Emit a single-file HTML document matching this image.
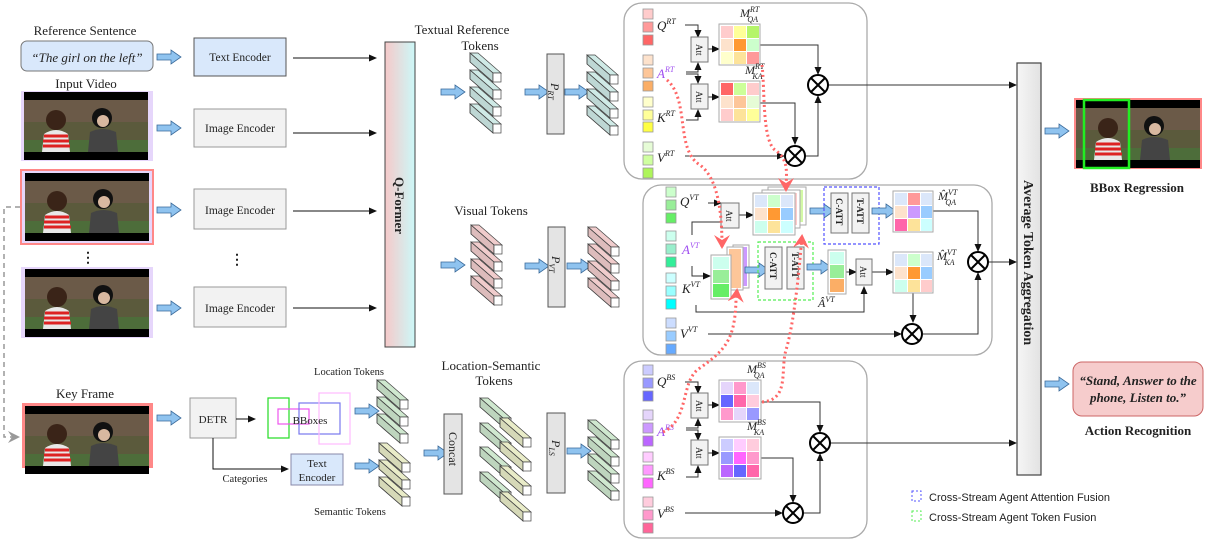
<!DOCTYPE html>
<html><head><meta charset="utf-8"><style>
html,body{margin:0;padding:0;background:#fff;width:1218px;height:553px;overflow:hidden}
svg{display:block}
text{font-family:"Liberation Serif",serif;fill:#222}
.s{font-family:"Liberation Sans",sans-serif}
</style></head><body>
<svg width="1218" height="553" viewBox="0 0 1218 553" xmlns="http://www.w3.org/2000/svg">
<defs>
<marker id="ah" markerWidth="8" markerHeight="8" refX="7" refY="4" orient="auto" markerUnits="userSpaceOnUse"><path d="M0,0.5 L8,4 L0,7.5 z" fill="#111"/></marker>
<marker id="ahg" markerWidth="12" markerHeight="12" refX="10" refY="6" orient="auto" markerUnits="userSpaceOnUse"><path d="M0,0 L12,6 L0,12 L4,6 z" fill="#999"/></marker>
<marker id="ahr" markerWidth="16" markerHeight="16" refX="12" refY="8" orient="auto" markerUnits="userSpaceOnUse"><path d="M0,0 L14,8 L0,16 L5,8 z" fill="#f66"/></marker>
<linearGradient id="qf" x1="0" x2="1"><stop offset="0" stop-color="#f6c9c9"/><stop offset="1" stop-color="#ccf8f8"/></linearGradient>
<linearGradient id="ag" x1="0" x2="1"><stop offset="0" stop-color="#f6f6f6"/><stop offset="1" stop-color="#e2e2e2"/></linearGradient>
<g id="barr"><path d="M0,4 L14,4 L14,0 L24,7 L14,14 L14,10 L0,10 z" fill="#8fc3ef" stroke="#3a6a9a" stroke-width="0.8"/></g>
<g id="tok" stroke="#444" stroke-width="0.7">
<path d="M0,0 L8,0 L31,20 L23,20 z" fill="currentColor"/>
<path d="M0,0 L23,20 L23,29 L0,9 z" fill="currentColor"/>
<path d="M0,0 L23,20 L23,29 L0,9 z" fill="#000" fill-opacity="0.08"/>
<rect x="23" y="20" width="8" height="9" fill="#fff" fill-opacity="0.85"/>
</g>
<g id="stack4"><use href="#tok" y="0"/><use href="#tok" y="17"/><use href="#tok" y="34"/><use href="#tok" y="51"/></g>
<g id="stack3"><use href="#tok" y="0"/><use href="#tok" y="17"/><use href="#tok" y="34"/></g>
<g id="img">
<rect x="0" y="0" width="124" height="68" fill="#000"/>
<rect x="0" y="8" width="124" height="52" fill="#5b5a3c"/>
<rect x="0" y="8" width="124" height="22" fill="#6b5a48"/>
<rect x="0" y="48" width="124" height="12" fill="#4d6d3a"/>
<circle cx="32" cy="28" r="10" fill="#3a2418"/>
<path d="M18,60 L20,42 Q32,34 44,42 L46,60z" fill="#e8e8e8"/>
<path d="M20,44 L44,44 M19,49 L45,49 M19,54 L46,54" stroke="#d22" stroke-width="3"/>
<circle cx="78" cy="26" r="10" fill="#111"/>
<circle cx="79" cy="29" r="6" fill="#d8b8a0"/>
<path d="M64,60 L66,40 Q78,34 92,40 L94,60z" fill="#444"/>
</g>
<g id="otimes"><circle r="10" fill="#fff" stroke="#000" stroke-width="2"/><path d="M-7,-7 L7,7 M-7,7 L7,-7" stroke="#000" stroke-width="2"/></g>
<g id="att"><rect x="0" y="0" width="17" height="25" fill="#f2f2f2" stroke="#777"/><text x="0" y="0" font-size="9" transform="translate(5,7) rotate(90)">Att</text></g>
</defs>

<!-- Left inputs -->
<text x="85" y="35" font-size="13" text-anchor="middle">Reference Sentence</text>
<rect x="21" y="41" width="132" height="30" rx="6" fill="#d9e8fb" stroke="#777"/>
<text x="87" y="62" font-size="13" text-anchor="middle" font-style="italic">“The girl on the left”</text>
<use href="#barr" x="157" y="50"/>
<rect x="194" y="38" width="92" height="38" fill="#d9e8fb" stroke="#555"/>
<text x="240" y="61" font-size="11.5" text-anchor="middle">Text Encoder</text>
<line x1="293" y1="58" x2="376" y2="58" stroke="#111" marker-end="url(#ah)"/>

<text x="86" y="88" font-size="13" text-anchor="middle">Input Video</text>
<rect x="21" y="91" width="132" height="70" fill="#e6d6fb"/><use href="#img" x="24" y="92" transform="translate(0,0)"/>
<rect x="20" y="169" width="134" height="76" fill="#f88"/><rect x="22" y="171" width="130" height="72" fill="#e6d6fb"/><use href="#img" x="25" y="173"/>
<text x="88" y="262" font-size="14" text-anchor="middle" font-weight="bold">⋮</text>
<text x="237" y="264" font-size="14" text-anchor="middle" font-weight="bold">⋮</text>
<rect x="21" y="267" width="132" height="71" fill="#e6d6fb"/><use href="#img" x="25" y="269"/>
<use href="#barr" x="157" y="121"/><use href="#barr" x="157" y="203"/><use href="#barr" x="157" y="301"/>
<rect x="194" y="109" width="92" height="38" fill="#f2f2f2" stroke="#999"/><text x="240" y="132" font-size="11.5" text-anchor="middle" fill="#444">Image Encoder</text>
<rect x="194" y="189" width="92" height="40" fill="#f2f2f2" stroke="#999"/><text x="240" y="214" font-size="11.5" text-anchor="middle" fill="#444">Image Encoder</text>
<rect x="194" y="287" width="92" height="40" fill="#f2f2f2" stroke="#999"/><text x="240" y="312" font-size="11.5" text-anchor="middle" fill="#444">Image Encoder</text>
<line x1="293" y1="133" x2="376" y2="133" stroke="#111" marker-end="url(#ah)"/>
<line x1="293" y1="211" x2="376" y2="211" stroke="#111" marker-end="url(#ah)"/>
<line x1="293" y1="308" x2="376" y2="308" stroke="#111" marker-end="url(#ah)"/>
<rect x="385" y="42" width="30" height="305" fill="url(#qf)" stroke="#444"/>
<text font-size="13" font-weight="bold" transform="translate(395,177) rotate(90)">Q-Former</text>

<path d="M20,207 L4,207 L4,437 L18,437" fill="none" stroke="#999" stroke-width="1.5" stroke-dasharray="5,4" marker-end="url(#ahg)"/>

<!-- Key frame branch -->
<text x="85" y="398" font-size="13" text-anchor="middle">Key Frame</text>
<rect x="22" y="403" width="131" height="65" fill="#f88"/><use href="#img" x="25" y="406" transform="translate(0,0)"/>
<use href="#barr" x="157" y="411"/>
<rect x="190" y="398" width="46" height="40" fill="#f2f2f2" stroke="#999"/><text x="213" y="423" font-size="11" text-anchor="middle" fill="#444">DETR</text>
<line x1="236" y1="419" x2="255" y2="419" stroke="#111" marker-end="url(#ah)"/>
<rect x="268" y="398" width="21" height="40" fill="none" stroke="#2d2" stroke-width="1.2"/>
<rect x="278" y="409" width="31" height="15" fill="none" stroke="#e5e" stroke-width="1.2"/>
<rect x="299" y="403" width="41" height="31" fill="none" stroke="#77e" stroke-width="1.2"/>
<rect x="319" y="393" width="31" height="51" fill="none" stroke="#fbf" stroke-width="1.2"/>
<text x="310" y="424" font-size="11" text-anchor="middle">BBoxes</text>
<path d="M213,438 L213,469 L288,469" fill="none" stroke="#111" marker-end="url(#ah)"/>
<text x="245" y="482" font-size="10.5" text-anchor="middle">Categories</text>
<rect x="291" y="454" width="52" height="31" fill="#d9e8fb" stroke="#88a"/>
<text x="317" y="467" font-size="11" text-anchor="middle">Text</text><text x="317" y="481" font-size="11" text-anchor="middle">Encoder</text>
<text x="349" y="375" font-size="10.5" text-anchor="middle">Location Tokens</text>
<text x="350" y="515" font-size="10.5" text-anchor="middle">Semantic Tokens</text>
<use href="#barr" x="355" y="404"/><use href="#barr" x="355" y="459"/>
<use href="#stack3" x="377" y="380" color="#cfe8cf"/>
<use href="#stack3" x="379" y="443" color="#e9ecc8"/>
<use href="#barr" x="424" y="446"/>
<rect x="444" y="414" width="18" height="80" fill="#e4e4e4" stroke="#555"/>
<text font-size="12" transform="translate(449,432) rotate(90)">Concat</text>
<text x="491" y="370" font-size="13" text-anchor="middle">Location-Semantic</text>
<text x="494" y="385" font-size="13" text-anchor="middle">Tokens</text>
<g color="#cfe8cf"><use href="#tok" x="480" y="398"/><use href="#tok" x="480" y="423"/><use href="#tok" x="480" y="447"/><use href="#tok" x="480" y="472"/></g>
<g color="#e9ecc8"><use href="#tok" x="500" y="418"/><use href="#tok" x="500" y="442"/><use href="#tok" x="500" y="466"/><use href="#tok" x="500" y="492"/></g>
<rect x="547" y="413" width="18" height="80" fill="#e4e4e4" stroke="#555"/>
<text font-size="12" font-style="italic" transform="translate(552,440) rotate(90)">P<tspan font-size="8" dy="3">LS</tspan></text>
<use href="#barr" x="567" y="444"/>
<use href="#stack4" x="588" y="420" color="#cfe8cf"/>

<!-- Textual / Visual tokens -->
<text x="462" y="34" font-size="13" text-anchor="middle">Textual Reference</text>
<text x="480" y="50" font-size="13" text-anchor="middle">Tokens</text>
<use href="#barr" x="441" y="85"/>
<use href="#stack4" x="470" y="53" color="#cfeae6"/>
<use href="#barr" x="525" y="85"/>
<rect x="547" y="54" width="17" height="80" fill="#e4e4e4" stroke="#555"/>
<text font-size="12" font-style="italic" transform="translate(551,83) rotate(90)">P<tspan font-size="8" dy="3">RT</tspan></text>
<use href="#barr" x="565" y="85"/>
<use href="#stack4" x="587" y="55" color="#cfeae6"/>

<text x="491" y="215" font-size="13" text-anchor="middle">Visual Tokens</text>
<use href="#barr" x="441" y="258"/>
<use href="#stack4" x="471" y="225" color="#f0cccc"/>
<use href="#barr" x="525" y="259"/>
<rect x="548" y="227" width="17" height="80" fill="#e4e4e4" stroke="#555"/>
<text font-size="12" font-style="italic" transform="translate(552,256) rotate(90)">P<tspan font-size="8" dy="3">VT</tspan></text>
<use href="#barr" x="567" y="259"/>
<use href="#stack4" x="588" y="227" color="#f0cccc"/>

<!-- Panel RT -->
<rect x="624" y="3" width="243" height="176" rx="18" fill="#fff" stroke="#aaa" stroke-width="1.3"/>
<g stroke="#999" stroke-width="0.8">
<rect x="643" y="9" width="10" height="10" fill="#fcc"/><rect x="643" y="22" width="10" height="10" fill="#f99"/><rect x="643" y="35" width="10" height="10" fill="#f66"/>
<rect x="643" y="55" width="10" height="10" fill="#fde2cc"/><rect x="643" y="68" width="10" height="10" fill="#fdc699"/><rect x="643" y="81" width="10" height="10" fill="#fbae66"/>
<rect x="643" y="97" width="10" height="10" fill="#ffc"/><rect x="643" y="110" width="10" height="10" fill="#ff9"/><rect x="643" y="122" width="10" height="10" fill="#ff4"/>
<rect x="643" y="142" width="10" height="10" fill="#e6fcd6"/><rect x="643" y="155" width="10" height="10" fill="#cfffa0"/><rect x="643" y="168" width="10" height="10" fill="#aef55a"/>
</g>
<text x="657" y="30" font-size="13" font-style="italic">Q<tspan font-size="8" dy="-6">RT</tspan></text>
<text x="657" y="78" font-size="13" font-style="italic" fill="#a5f" style="fill:#a050f0">A<tspan font-size="8" dy="-6">RT</tspan></text>
<text x="657" y="122" font-size="13" font-style="italic">K<tspan font-size="8" dy="-6">RT</tspan></text>
<text x="657" y="162" font-size="13" font-style="italic">V<tspan font-size="8" dy="-6">RT</tspan></text>
<g fill="none" stroke="#333" stroke-width="1">
<path d="M685,25 L698,25 L698,37" marker-end="url(#ah)"/>
<path d="M686,72 L698,72 L698,63" marker-end="url(#ah)"/>
<path d="M686,74 L698,74 L698,83" marker-end="url(#ah)"/>
<path d="M686,120 L698,120 L698,110" marker-end="url(#ah)"/>
<path d="M707,49 L719,49" marker-end="url(#ah)"/><path d="M707,97 L719,97" marker-end="url(#ah)"/>
<path d="M760,45 L818,45 L818,74" marker-end="url(#ah)"/>
<path d="M760,103 L795,103 L795,144" marker-end="url(#ah)"/>
<path d="M685,156 L784,156" marker-end="url(#ah)"/>
<path d="M805,156 L818,156 L818,96" marker-end="url(#ah)"/>
<path d="M828,85 L1016,85" marker-end="url(#ah)"/>
</g>
<use href="#att" x="691" y="37"/><use href="#att" x="691" y="84"/>
<g stroke="#aaa"><rect x="719" y="24" width="41" height="41" fill="#fff"/><rect x="719" y="81" width="41" height="41" fill="#fff"/></g>
<g>
<rect x="721" y="26" width="12" height="12" fill="#fcc"/><rect x="734" y="26" width="12" height="12" fill="#ff9"/><rect x="747" y="26" width="12" height="12" fill="#b5f56a"/>
<rect x="721" y="39" width="12" height="12" fill="#fde2cc"/><rect x="734" y="39" width="12" height="12" fill="#f93"/><rect x="747" y="39" width="12" height="12" fill="#cfc"/>
<rect x="721" y="52" width="12" height="12" fill="#ffc"/><rect x="734" y="52" width="12" height="12" fill="#fde39a"/><rect x="747" y="52" width="12" height="12" fill="#f99"/>
<rect x="721" y="83" width="12" height="12" fill="#f66"/><rect x="734" y="83" width="12" height="12" fill="#cf9"/><rect x="747" y="83" width="12" height="12" fill="#fcc"/>
<rect x="721" y="96" width="12" height="12" fill="#fde2cc"/><rect x="734" y="96" width="12" height="12" fill="#fdc699"/><rect x="747" y="96" width="12" height="12" fill="#e6fcd6"/>
<rect x="721" y="109" width="12" height="12" fill="#fcc"/><rect x="734" y="109" width="12" height="12" fill="#fde39a"/><rect x="747" y="109" width="12" height="12" fill="#ff9"/>
</g>
<text x="740" y="17" font-size="12" font-style="italic">M<tspan font-size="8" dy="-5">RT</tspan><tspan font-size="8" dx="-12" dy="10">QA</tspan></text>
<text x="745" y="74" font-size="12" font-style="italic">M<tspan font-size="8" dy="-5">RT</tspan><tspan font-size="8" dx="-12" dy="10">KA</tspan></text>
<use href="#otimes" x="818" y="85"/><use href="#otimes" x="795" y="156"/>

<!-- Panel VT -->
<rect x="643" y="185" width="349" height="170" rx="18" fill="#fff" stroke="#aaa" stroke-width="1.3"/>
<g stroke="#999" stroke-width="0.8">
<rect x="666" y="187" width="10" height="10" fill="#cfc"/><rect x="666" y="200" width="10" height="10" fill="#9e9"/><rect x="666" y="213" width="10" height="10" fill="#6e6"/>
<rect x="666" y="231" width="10" height="10" fill="#cfe"/><rect x="666" y="244" width="10" height="10" fill="#9ec"/><rect x="666" y="257" width="10" height="10" fill="#3e9"/>
<rect x="666" y="273" width="10" height="10" fill="#cff"/><rect x="666" y="286" width="10" height="10" fill="#9ff"/><rect x="666" y="299" width="10" height="10" fill="#0ff"/>
<rect x="666" y="318" width="10" height="10" fill="#cdf"/><rect x="666" y="331" width="10" height="10" fill="#9cf"/><rect x="666" y="344" width="10" height="10" fill="#6af"/>
</g>
<text x="680" y="206" font-size="13" font-style="italic">Q<tspan font-size="8" dy="-6">VT</tspan></text>
<text x="682" y="254" font-size="13" font-style="italic" style="fill:#a050f0">A<tspan font-size="8" dy="-6">VT</tspan></text>
<text x="682" y="293" font-size="13" font-style="italic">K<tspan font-size="8" dy="-6">VT</tspan></text>
<text x="680" y="338" font-size="13" font-style="italic">V<tspan font-size="8" dy="-6">VT</tspan></text>
<g fill="none" stroke="#333" stroke-width="1">
<path d="M708,203 L721,203" marker-end="url(#ah)"/>
<path d="M692,235 L692,222 L721,222"/>
<path d="M692,266 L692,276 L710,276" marker-end="url(#ah)"/>
<path d="M696,305 L696,312 L864,312 L864,287" marker-end="url(#ah)"/>
<path d="M739,215 L753,215" marker-end="url(#ah)"/>
<path d="M846,272 L856,272" marker-end="url(#ah)"/>
<path d="M872,272 L893,272" marker-end="url(#ah)"/>
<path d="M933,211 L978,211 L978,251" marker-end="url(#ah)"/>
<path d="M913,292 L913,322" marker-end="url(#ah)"/>
<path d="M708,334 L901,334" marker-end="url(#ah)"/>
<path d="M923,334 L978,334 L978,273" marker-end="url(#ah)"/>
<path d="M988,262 L1016,262" marker-end="url(#ah)"/>
</g>
<g transform="translate(721,203)"><rect width="18" height="25" fill="#f2f2f2" stroke="#777"/><text font-size="9" transform="translate(5,7) rotate(90)">Att</text></g>
<!-- stacked matrices -->
<rect x="768" y="187" width="38" height="38" fill="#fff" stroke="#aaa"/><rect x="771" y="190" width="32" height="32" fill="#b5f56a" opacity="0.6"/>
<rect x="762" y="190" width="38" height="38" fill="#fff" stroke="#aaa"/><rect x="765" y="193" width="32" height="32" fill="#f99" opacity="0.5"/>
<rect x="753" y="193" width="42" height="42" fill="#fff" stroke="#aaa"/>
<rect x="755" y="195" width="12" height="12" fill="#dbe7fa"/><rect x="768" y="195" width="12" height="12" fill="#cfc"/><rect x="781" y="195" width="12" height="12" fill="#dbe7fa"/>
<rect x="755" y="208" width="12" height="12" fill="#fde2cc"/><rect x="768" y="208" width="12" height="12" fill="#f93"/><rect x="781" y="208" width="12" height="12" fill="#9cf"/>
<rect x="755" y="221" width="12" height="12" fill="#cfe"/><rect x="768" y="221" width="12" height="12" fill="#fde39a"/><rect x="781" y="221" width="12" height="12" fill="#cff"/>
<use href="#barr" x="810" y="204"/>
<rect x="824" y="187" width="55" height="57" fill="none" stroke="#55f" stroke-dasharray="3,2" stroke-width="1.2"/>
<rect x="831" y="193" width="17" height="40" fill="#f2f2f2" stroke="#777"/><text font-size="9" font-weight="bold" transform="translate(836,198) rotate(90)">C-ATT</text>
<rect x="852" y="193" width="17" height="40" fill="#f2f2f2" stroke="#777"/><text font-size="9" font-weight="bold" transform="translate(857,198) rotate(90)">T-ATT</text>
<use href="#barr" x="872" y="204"/>
<rect x="893" y="191" width="40" height="41" fill="#fff" stroke="#aaa"/>
<rect x="895" y="193" width="12" height="12" fill="#dbe7fa"/><rect x="908" y="193" width="12" height="12" fill="#f99"/><rect x="921" y="193" width="11" height="12" fill="#dbe7fa"/>
<rect x="895" y="206" width="12" height="12" fill="#fde2cc"/><rect x="908" y="206" width="12" height="12" fill="#c9f"/><rect x="921" y="206" width="11" height="12" fill="#9cf"/>
<rect x="895" y="219" width="12" height="12" fill="#f6a"/><rect x="908" y="219" width="12" height="12" fill="#fde39a"/><rect x="921" y="219" width="11" height="12" fill="#cff"/>
<text x="938" y="200" font-size="12" font-style="italic">M̂<tspan font-size="8" dy="-5">VT</tspan><tspan font-size="8" dx="-12" dy="10">QA</tspan></text>
<!-- agent stack -->
<rect x="733" y="245" width="16" height="43" fill="#fff" stroke="#aaa"/><rect x="735" y="247" width="12" height="39" fill="#c9f"/>
<rect x="727" y="247" width="16" height="43" fill="#fff" stroke="#aaa"/><rect x="729" y="249" width="12" height="39" fill="#fdc699"/>
<rect x="711" y="255" width="20" height="44" fill="#fff" stroke="#aaa"/>
<rect x="713" y="257" width="16" height="12" fill="#cfe"/><rect x="713" y="270" width="16" height="13" fill="#9e9"/><rect x="713" y="284" width="16" height="13" fill="#6e6"/>
<use href="#barr" x="745" y="263"/>
<rect x="758" y="242" width="55" height="58" fill="none" stroke="#5e5" stroke-dasharray="3,2" stroke-width="1.2"/>
<rect x="765" y="247" width="17" height="42" fill="#f2f2f2" stroke="#777"/><text font-size="9" font-weight="bold" transform="translate(770,252) rotate(90)">C-ATT</text>
<rect x="787" y="247" width="17" height="42" fill="#f2f2f2" stroke="#777"/><text font-size="9" font-weight="bold" transform="translate(792,252) rotate(90)">T-ATT</text>
<use href="#barr" x="807" y="260"/>
<rect x="828" y="250" width="18" height="44" fill="#fff" stroke="#aaa"/>
<rect x="830" y="252" width="14" height="12" fill="#cfe"/><rect x="830" y="265" width="14" height="13" fill="#9e9"/><rect x="830" y="279" width="14" height="13" fill="#fbae66"/>
<g transform="translate(856,259)"><rect width="16" height="26" fill="#f2f2f2" stroke="#777"/><text font-size="9" transform="translate(4,7) rotate(90)">Att</text></g>
<text x="818" y="307" font-size="12" font-style="italic">Â<tspan font-size="8" dy="-5">VT</tspan></text>
<rect x="893" y="252" width="40" height="41" fill="#fff" stroke="#aaa"/>
<rect x="895" y="254" width="12" height="12" fill="#dbe7fa"/><rect x="908" y="254" width="12" height="12" fill="#cfc"/><rect x="921" y="254" width="11" height="12" fill="#dbe7fa"/>
<rect x="895" y="267" width="12" height="12" fill="#fde2cc"/><rect x="908" y="267" width="12" height="12" fill="#f93"/><rect x="921" y="267" width="11" height="12" fill="#9cf"/>
<rect x="895" y="280" width="12" height="12" fill="#cfe"/><rect x="908" y="280" width="12" height="12" fill="#fde39a"/><rect x="921" y="280" width="11" height="12" fill="#fcc"/>
<text x="937" y="260" font-size="12" font-style="italic">M̂<tspan font-size="8" dy="-5">VT</tspan><tspan font-size="8" dx="-12" dy="10">KA</tspan></text>
<use href="#otimes" x="978" y="262"/><use href="#otimes" x="912" y="334"/>

<!-- Panel BS -->
<rect x="624" y="361" width="243" height="177" rx="18" fill="#fff" stroke="#aaa" stroke-width="1.3"/>
<g stroke="#999" stroke-width="0.8">
<rect x="643" y="365" width="10" height="10" fill="#ccf"/><rect x="643" y="378" width="10" height="10" fill="#99f"/><rect x="643" y="391" width="10" height="10" fill="#66f"/>
<rect x="643" y="410" width="10" height="10" fill="#e5d5fb"/><rect x="643" y="423" width="10" height="10" fill="#c9f"/><rect x="643" y="436" width="10" height="10" fill="#b6f"/>
<rect x="643" y="452" width="10" height="10" fill="#fcf"/><rect x="643" y="465" width="10" height="10" fill="#f9f"/><rect x="643" y="478" width="10" height="10" fill="#f6f"/>
<rect x="643" y="497" width="10" height="10" fill="#fcd"/><rect x="643" y="510" width="10" height="10" fill="#f9c"/><rect x="643" y="523" width="10" height="10" fill="#f69"/>
</g>
<text x="657" y="386" font-size="13" font-style="italic">Q<tspan font-size="8" dy="-6">BS</tspan></text>
<text x="657" y="436" font-size="13" font-style="italic" style="fill:#a050f0">A<tspan font-size="8" dy="-6">BS</tspan></text>
<text x="657" y="480" font-size="13" font-style="italic">K<tspan font-size="8" dy="-6">BS</tspan></text>
<text x="657" y="518" font-size="13" font-style="italic">V<tspan font-size="8" dy="-6">BS</tspan></text>
<g fill="none" stroke="#333" stroke-width="1">
<path d="M685,382 L698,382 L698,393" marker-end="url(#ah)"/>
<path d="M686,428 L698,428 L698,419" marker-end="url(#ah)"/>
<path d="M686,430 L698,430 L698,440" marker-end="url(#ah)"/>
<path d="M686,477 L698,477 L698,466" marker-end="url(#ah)"/>
<path d="M707,405 L719,405" marker-end="url(#ah)"/><path d="M707,453 L719,453" marker-end="url(#ah)"/>
<path d="M761,402 L820,402 L820,432" marker-end="url(#ah)"/>
<path d="M761,458 L793,458 L793,502" marker-end="url(#ah)"/>
<path d="M685,513 L782,513" marker-end="url(#ah)"/>
<path d="M803,513 L820,513 L820,454" marker-end="url(#ah)"/>
<path d="M830,443 L1016,443" marker-end="url(#ah)"/>
</g>
<use href="#att" x="691" y="393"/><use href="#att" x="691" y="440"/>
<g stroke="#aaa"><rect x="719" y="380" width="42" height="42" fill="#fff"/><rect x="719" y="437" width="42" height="42" fill="#fff"/></g>
<rect x="721" y="382" width="12" height="12" fill="#e5d5fb"/><rect x="734" y="382" width="12" height="12" fill="#f9c"/><rect x="747" y="382" width="12" height="12" fill="#dbe7fa"/>
<rect x="721" y="395" width="12" height="12" fill="#66f"/><rect x="734" y="395" width="12" height="12" fill="#f6a"/><rect x="747" y="395" width="12" height="12" fill="#fcd"/>
<rect x="721" y="408" width="12" height="12" fill="#f9c"/><rect x="734" y="408" width="12" height="12" fill="#e5d5fb"/><rect x="747" y="408" width="12" height="12" fill="#99f"/>
<rect x="721" y="439" width="12" height="12" fill="#ccf"/><rect x="734" y="439" width="12" height="12" fill="#fcf"/><rect x="747" y="439" width="12" height="12" fill="#fcd"/>
<rect x="721" y="452" width="12" height="12" fill="#99f"/><rect x="734" y="452" width="12" height="12" fill="#f6f"/><rect x="747" y="452" width="12" height="12" fill="#f9c"/>
<rect x="721" y="465" width="12" height="12" fill="#b6f"/><rect x="734" y="465" width="12" height="12" fill="#66f"/><rect x="747" y="465" width="12" height="12" fill="#f6a"/>
<text x="747" y="373" font-size="12" font-style="italic">M<tspan font-size="8" dy="-5">BS</tspan><tspan font-size="8" dx="-12" dy="10">QA</tspan></text>
<text x="747" y="430" font-size="12" font-style="italic">M<tspan font-size="8" dy="-5">BS</tspan><tspan font-size="8" dx="-12" dy="10">KA</tspan></text>
<use href="#otimes" x="820" y="443"/><use href="#otimes" x="793" y="513"/>

<!-- red dotted curves -->
<g fill="none" stroke="#f66" stroke-width="3" stroke-dasharray="2,3">
<path d="M667,80 C690,100 675,150 700,165 C720,180 722,220 722,247" marker-end="url(#ahr)"/>
<path d="M762,65 C765,90 762,140 775,150 C790,160 786,175 786,190" marker-end="url(#ahr)"/>
<path d="M663,432 C690,420 680,380 700,368 C725,350 735,340 736,300 L737,290" marker-end="url(#ahr)"/>
<path d="M762,402 C790,400 780,370 786,350 C795,320 800,260 802,236" marker-end="url(#ahr)"/>
</g>

<!-- Average Token Aggregation -->
<rect x="1017" y="63" width="24" height="412" fill="url(#ag)" stroke="#444" stroke-width="1.2"/>
<text font-size="14" font-weight="bold" transform="translate(1024,180) rotate(90)">Average Token Aggregation</text>
<use href="#barr" x="1045" y="124"/><use href="#barr" x="1045" y="377"/>
<rect x="1074" y="98" width="128" height="71" fill="#f88"/>
<use href="#img" x="1076" y="100"/>
<rect x="1084" y="100" width="45" height="68" fill="none" stroke="#2e2" stroke-width="2.5"/>
<text x="1137" y="192" font-size="13" font-weight="bold" text-anchor="middle">BBox Regression</text>
<rect x="1073" y="362" width="130" height="54" rx="9" fill="#f6cccc" stroke="#c66"/>
<text x="1138" y="385" font-size="13" font-weight="bold" font-style="italic" text-anchor="middle">“Stand, Answer to the</text>
<text x="1138" y="402" font-size="13" font-weight="bold" font-style="italic" text-anchor="middle">phone, Listen to.”</text>
<text x="1138" y="435" font-size="13" font-weight="bold" text-anchor="middle">Action Recognition</text>

<rect x="912" y="491" width="9" height="10" fill="none" stroke="#55f" stroke-dasharray="2,2"/>
<text x="929" y="501" font-size="11" class="s" style="font-family:'Liberation Sans',sans-serif">Cross-Stream Agent Attention Fusion</text>
<rect x="912" y="511" width="9" height="10" fill="none" stroke="#5e5" stroke-dasharray="2,2"/>
<text x="929" y="521" font-size="11" style="font-family:'Liberation Sans',sans-serif">Cross-Stream Agent Token Fusion</text>
</svg>
</body></html>
